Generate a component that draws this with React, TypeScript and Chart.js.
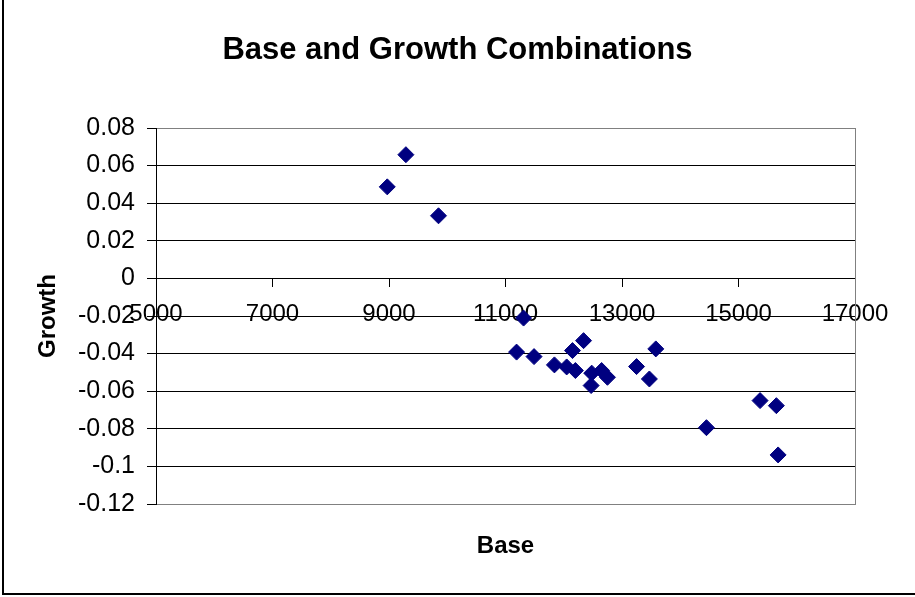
import React, { useEffect, useRef } from 'react';
import { Chart, registerables } from 'chart.js';

Chart.register(...registerables);

const chartTitle = 'Base and Growth Combinations';
const xAxisTitle = 'Base';
const yAxisTitle = 'Growth';

const baseValues = [
  8970, 9290, 9850, 11310, 11190, 11490, 11840, 12050, 12200, 12150, 12340,
  12480, 12470, 12650, 12750, 13250, 13470, 13580, 14450, 15370, 15650, 15680,
];
const growthValues = [
  0.0487, 0.0658, 0.0333, -0.0211, -0.0392, -0.0416, -0.046, -0.0471, -0.049,
  -0.0384, -0.0331, -0.0504, -0.057, -0.049, -0.0526, -0.0469, -0.0535,
  -0.0375, -0.0794, -0.065, -0.0677, -0.0939,
];

const xMin = 5000;
const xMax = 17000;
const xStep = 2000;
const yMin = -0.12;
const yMax = 0.08;
const yStep = 0.02;

const FONT = "'Liberation Sans', Arial, sans-serif";

function fmtY(v: number): string {
  return String(Number(v.toFixed(2)));
}

export default function App() {
  const ref = useRef<HTMLCanvasElement>(null);

  useEffect(() => {
    document.body.style.margin = '0';
    const canvas = ref.current;
    if (!canvas) return;
    const lastIdx = Math.round((yMax - yMin) / yStep);
    const chart = new Chart(canvas, {
      type: 'scatter',
      data: {
        datasets: [
          {
            data: baseValues.map((b, i) => ({ x: b, y: growthValues[i] })),
            pointStyle: 'rectRot',
            pointRadius: 8,
            pointHoverRadius: 8,
            backgroundColor: '#000080',
            borderColor: '#000080',
            borderWidth: 1,
          },
        ],
      },
      options: {
        animation: false,
        responsive: false,
        devicePixelRatio: 1,
        events: [],
        layout: { padding: 0 },
        plugins: {
          legend: { display: false },
          tooltip: { enabled: false },
          title: {
            display: true,
            text: chartTitle,
            color: '#000',
            font: { family: FONT, size: 31, weight: 'bold' },
            padding: { top: 32, bottom: 58.8 },
          },
        },
        scales: {
          x: {
            type: 'linear',
            position: { y: 0 } as any,
            min: xMin,
            max: xMax,
            ticks: {
              stepSize: xStep,
              color: '#000',
              font: { family: FONT, size: 24 },
              padding: 14,
              maxRotation: 0,
              autoSkip: false,
              callback: (v: any) => String(v),
            },
            grid: {
              drawOnChartArea: false,
              drawTicks: true,
              tickLength: 8,
              color: '#000',
              tickColor: '#000',
            },
            border: { display: true, color: '#000', width: 1 },
          },
          xb: {
            type: 'linear',
            position: 'bottom',
            min: xMin,
            max: xMax,
            ticks: { display: false },
            grid: { display: false },
            border: { display: false },
            title: {
              display: true,
              text: xAxisTitle,
              color: '#000',
              font: { family: FONT, size: 24, weight: 'bold' },
              padding: { top: 0, bottom: 36.6 },
            },
            afterFit: (s: any) => {
              s.height = 93;
            },
          },
          y: {
            type: 'linear',
            position: 'left',
            min: yMin,
            max: yMax,
            ticks: {
              stepSize: yStep,
              color: '#000',
              font: { family: FONT, size: 25 },
              padding: 12,
              callback: (v: any) => fmtY(Number(v)),
            },
            grid: {
              color: (ctx: any) =>
                ctx.index === 0 || ctx.index === lastIdx ? '#808080' : '#000',
              tickColor: '#000',
              tickLength: 9,
              drawTicks: true,
              lineWidth: 1,
            },
            border: { display: true, color: '#000', width: 1 },
            title: {
              display: true,
              text: yAxisTitle,
              color: '#000',
              font: { family: FONT, size: 24, weight: 'bold' },
              padding: { top: 33.6, bottom: 0 },
            },
            afterFit: (s: any) => {
              s.width = 156;
            },
          },
          yr: {
            type: 'linear',
            position: 'right',
            min: yMin,
            max: yMax,
            ticks: { display: false },
            grid: { display: false },
            border: { display: true, color: '#808080', width: 1 },
            afterFit: (s: any) => {
              s.width = 60;
            },
          },
        },
      } as any,
    });
    return () => chart.destroy();
  }, []);

  return (
    <div style={{ position: 'relative', width: 915, height: 597, background: '#fff' }}>
      <canvas ref={ref} width={915} height={597} style={{ display: 'block' }} />
      <div
        style={{
          position: 'absolute',
          left: 2,
          top: 0,
          width: 913,
          height: 595,
          borderLeft: '2px solid #000',
          borderBottom: '2px solid #000',
          boxSizing: 'border-box',
          pointerEvents: 'none',
        }}
      />
    </div>
  );
}
